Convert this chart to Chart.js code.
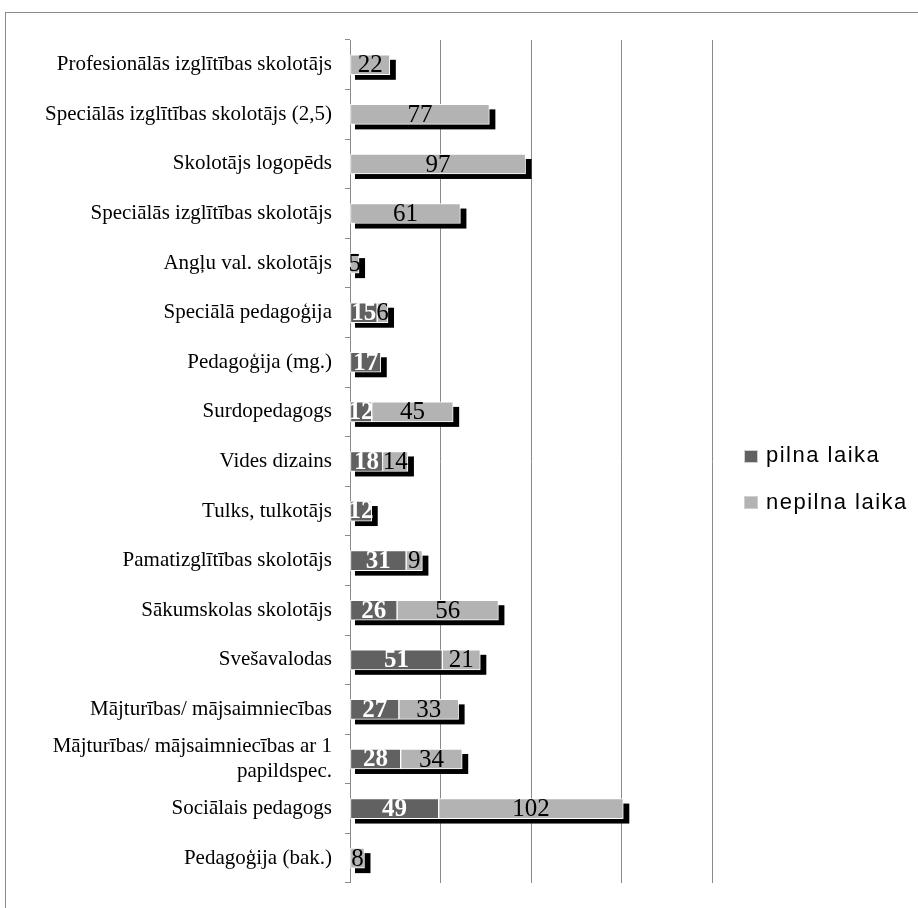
<!DOCTYPE html>
<html><head><meta charset="utf-8">
<script src="https://cdn.jsdelivr.net/npm/chart.js@4/dist/chart.umd.min.js"></script>
<style>
html,body{margin:0;padding:0;background:#fff;}
#wrap{position:relative;width:918px;height:908px;overflow:hidden;background:#fff;}
#frame{position:absolute;left:5px;top:12px;width:1000px;height:1000px;border:1px solid #8a8a8a;box-sizing:border-box;}
#cv{position:absolute;left:0;top:0;}
.box{position:absolute;left:744px;width:14px;height:13px;box-sizing:border-box;border:1px solid #cfcfcf;}
.txt{position:absolute;left:766px;font-family:"Liberation Sans",Arial,sans-serif;font-size:22px;line-height:22px;letter-spacing:1.5px;color:#000;white-space:nowrap;}
</style></head>
<body>
<div id="wrap">
<div id="frame"></div>
<canvas id="cv" width="918" height="908"></canvas>
<div class="box" style="top:450px;background:#616161"></div>
<div class="txt" style="top:444px">pilna laika</div>
<div class="box" style="top:496px;background:#b3b3b3"></div>
<div class="txt" style="top:491px">nepilna laika</div>
</div>
<script>
const categories = [
  'Profesionālās izglītības skolotājs',
  'Speciālās izglītības skolotājs (2,5)',
  'Skolotājs logopēds',
  'Speciālās izglītības skolotājs',
  'Angļu val. skolotājs',
  'Speciālā pedagoģija',
  'Pedagoģija (mg.)',
  'Surdopedagogs',
  'Vides dizains',
  'Tulks, tulkotājs',
  'Pamatizglītības skolotājs',
  'Sākumskolas skolotājs',
  'Svešavalodas',
  'Mājturības/ mājsaimniecības',
  ['Mājturības/ mājsaimniecības ar 1', 'papildspec.'],
  'Sociālais pedagogs',
  'Pedagoģija (bak.)'
];
const pilnaLaika   = [0, 0, 0, 0, 0, 15, 17, 12, 18, 12, 31, 26, 51, 27, 28, 49, 0];
const nepilnaLaika = [22, 77, 97, 61, 5, 6, 0, 45, 14, 0, 9, 56, 21, 33, 34, 102, 8];
const seriesNames = ['pilna laika', 'nepilna laika'];
const xTicks = [0, 50, 100, 150, 200];

const DARK = '#616161', LIGHT = '#b3b3b3', GRID = '#8a8a8a';

const shadowPlugin = {
  id: 'shadow',
  beforeDatasetsDraw(chart) {
    const ctx = chart.ctx, xs = chart.scales.x;
    const m0 = chart.getDatasetMeta(0), m1 = chart.getDatasetMeta(1);
    ctx.save();
    ctx.fillStyle = '#000';
    categories.forEach((c, i) => {
      const total = pilnaLaika[i] + nepilnaLaika[i];
      if (!total) return;
      const el = (m0.data[i] && pilnaLaika[i]) ? m0.data[i] : m1.data[i];
      const p = el.getProps(['y', 'height'], true);
      const x0 = xs.getPixelForValue(0), x1 = xs.getPixelForValue(total);
      ctx.fillRect(x0 + 5, p.y - p.height / 2 + 5, x1 - x0 + 1, p.height);
    });
    ctx.restore();
  }
};

const labelPlugin = {
  id: 'vals',
  afterDatasetsDraw(chart) {
    const ctx = chart.ctx;
    ctx.save();
    ctx.textAlign = 'center';
    ctx.textBaseline = 'middle';
    [pilnaLaika, nepilnaLaika].forEach((arr, d) => {
      const meta = chart.getDatasetMeta(d);
      meta.data.forEach((el, i) => {
        if (!arr[i]) return;
        const p = el.getProps(['x', 'base', 'y'], true);
        ctx.font = (d === 0 ? 'bold ' : '') + '25px "Liberation Serif","Times New Roman",serif';
        ctx.fillStyle = d === 0 ? '#fff' : '#000';
        ctx.fillText(String(arr[i]), (p.x + p.base) / 2, p.y + 1);
      });
    });
    ctx.restore();
  }
};

new Chart(document.getElementById('cv'), {
  type: 'bar',
  data: {
    labels: categories,
    datasets: [
      { label: seriesNames[0], data: pilnaLaika.map(v => v || null), backgroundColor: DARK,
        borderColor: '#ffffff', borderWidth: 1, borderSkipped: false, barThickness: 20 },
      { label: seriesNames[1], data: nepilnaLaika.map(v => v || null), backgroundColor: LIGHT,
        borderColor: '#ffffff', borderWidth: 1, borderSkipped: false, barThickness: 20 }
    ]
  },
  options: {
    indexAxis: 'y',
    responsive: false,
    animation: false,
    devicePixelRatio: 1,
    layout: { padding: { left: 0, top: 40, right: 206, bottom: 6 } },
    plugins: { legend: { display: false }, tooltip: { enabled: false } },
    scales: {
      x: {
        stacked: true, min: 0, max: 200,
        afterBuildTicks(s) { s.ticks = xTicks.map(v => ({ value: v })); },
        ticks: { display: false },
        grid: { color: GRID, lineWidth: 1, drawTicks: false },
        border: { display: false },
        afterFit(s) { s.height = 0; }
      },
      y: {
        stacked: true,
        ticks: { color: '#000', padding: 13, autoSkip: false,
          font: { family: '"Liberation Serif","Times New Roman",serif', size: 21, lineHeight: 1.15 } },
        grid: { drawOnChartArea: false, drawTicks: true, tickLength: 5, color: GRID, offset: true },
        border: { display: true, color: GRID },
        afterFit(s) { s.width = 350; }
      }
    }
  },
  plugins: [shadowPlugin, labelPlugin]
});
</script>
</body></html>
